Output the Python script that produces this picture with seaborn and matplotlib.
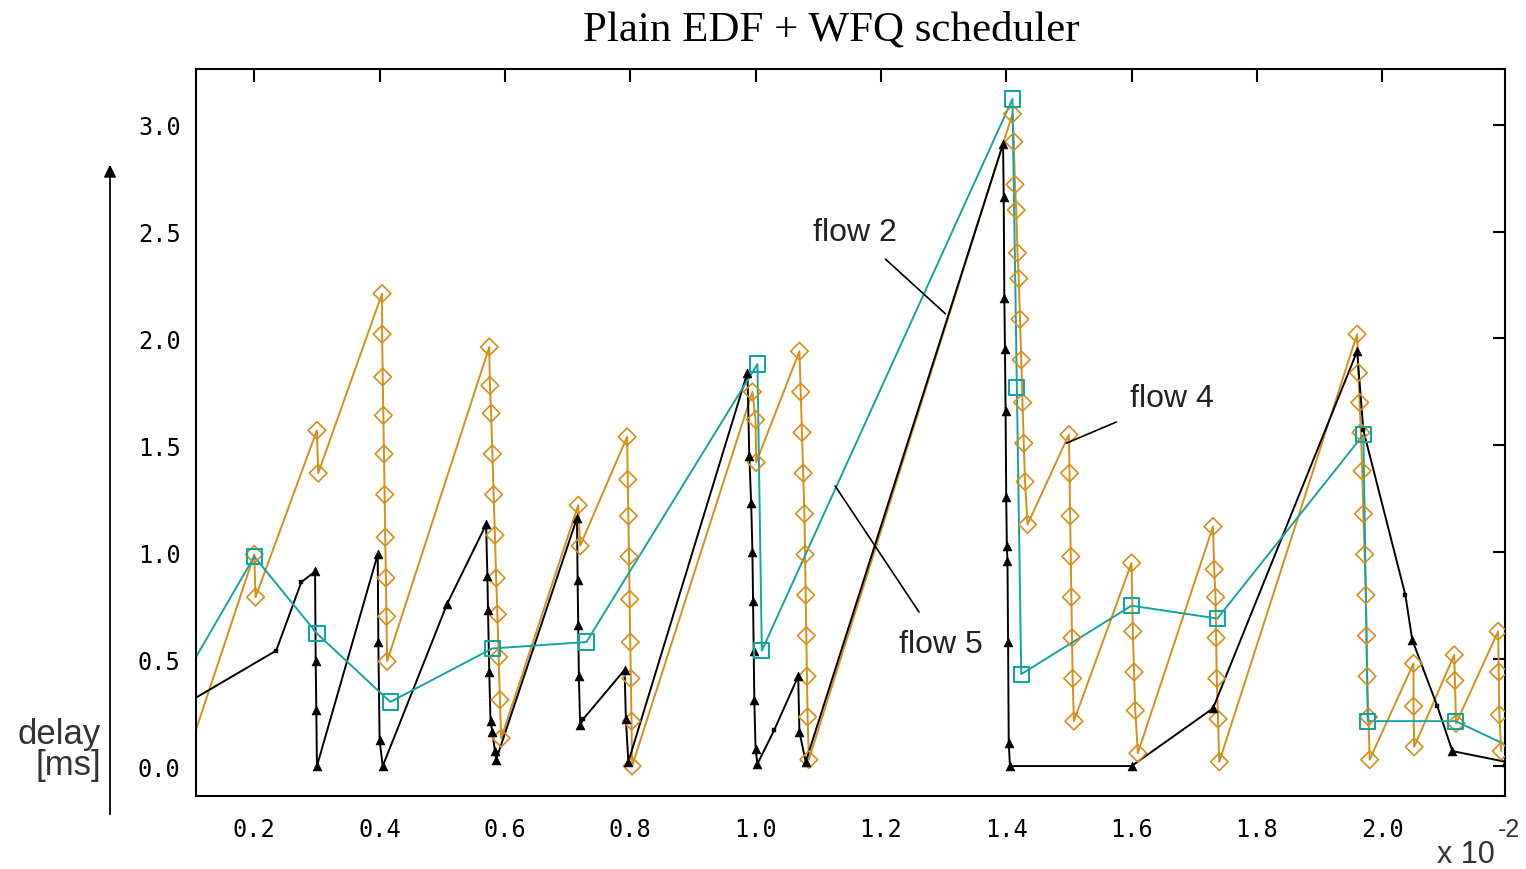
import matplotlib
matplotlib.use("Agg")
import matplotlib.pyplot as plt
import seaborn as sns

# flow 2 (black) : delay in ms vs time (x 10^-2)
flow2_x = [0.107, 0.235, 0.275, 0.297, 0.298, 0.299, 0.300,
           0.397, 0.398, 0.400, 0.405,
           0.508, 0.570, 0.572, 0.573, 0.575, 0.577, 0.580, 0.584, 0.586,
           0.715, 0.716, 0.717, 0.718, 0.720, 0.725, 0.791, 0.793, 0.797,
           0.987, 0.990, 0.993, 0.995, 0.996, 0.997, 0.998, 1.000, 1.003,
           1.030, 1.068, 1.070, 1.080,
           1.395, 1.396, 1.397, 1.398, 1.399, 1.400, 1.401, 1.402, 1.403, 1.404, 1.406,
           1.600, 1.730, 1.960, 1.970, 2.037, 2.048, 2.088, 2.112, 2.197]
flow2_y = [0.32, 0.54, 0.86, 0.91, 0.49, 0.26, 0.00,
           0.99, 0.58, 0.12, 0.00,
           0.76, 1.13, 0.89, 0.73, 0.44, 0.21, 0.16, 0.07, 0.03,
           1.16, 0.87, 0.66, 0.42, 0.19, 0.22, 0.45, 0.22, 0.02,
           1.84, 1.45, 1.23, 1.00, 0.77, 0.54, 0.31, 0.08, 0.01,
           0.17, 0.42, 0.16, 0.02,
           2.91, 2.66, 2.19, 1.95, 1.66, 1.26, 1.03, 0.96, 0.58, 0.11, 0.00,
           0.00, 0.27, 1.94, 1.57, 0.80, 0.59, 0.28, 0.07, 0.02]
# points of flow 2 drawn as small dots instead of triangles
flow2_dot_x = [0.235, 0.275, 0.725, 1.030, 1.970, 2.037, 2.088]

# flow 4 (orange)
flow4_x = [0.107, 0.200, 0.202, 0.300, 0.302, 0.404,
           0.404, 0.405, 0.406, 0.407, 0.408, 0.409, 0.410, 0.411, 0.412,
           0.575, 0.576, 0.578, 0.580, 0.582, 0.584, 0.586, 0.588, 0.590, 0.592, 0.594,
           0.717, 0.720, 0.795,
           0.796, 0.797, 0.798, 0.799, 0.800, 0.801, 0.802, 0.803,
           0.995, 1.000, 1.001, 1.070,
           1.072, 1.074, 1.076, 1.078, 1.079, 1.080, 1.081, 1.082, 1.083, 1.085,
           1.410, 1.412, 1.414, 1.416, 1.418, 1.420, 1.422, 1.424, 1.426, 1.428, 1.430, 1.434,
           1.500, 1.501, 1.502, 1.503, 1.504, 1.505, 1.506, 1.508,
           1.600, 1.602, 1.604, 1.606, 1.610,
           1.730, 1.732, 1.734, 1.735, 1.736, 1.738, 1.740,
           1.960, 1.962, 1.964, 1.966, 1.968, 1.970, 1.972, 1.974, 1.975, 1.976, 1.978, 1.980,
           2.050, 2.050, 2.051,
           2.115, 2.116, 2.118,
           2.185, 2.186, 2.187, 2.190]
flow4_y = [0.17, 0.99, 0.79, 1.57, 1.37, 2.21,
           2.02, 1.82, 1.64, 1.46, 1.27, 1.07, 0.88, 0.70, 0.49,
           1.96, 1.78, 1.65, 1.46, 1.27, 1.08, 0.88, 0.71, 0.51, 0.31, 0.13,
           1.22, 1.03, 1.54,
           1.34, 1.17, 0.98, 0.78, 0.58, 0.41, 0.21, 0.00,
           1.75, 1.62, 1.42, 1.94,
           1.75, 1.56, 1.37, 1.18, 0.99, 0.80, 0.61, 0.42, 0.23, 0.03,
           3.05, 2.92, 2.72, 2.60, 2.40, 2.28, 2.09, 1.90, 1.70, 1.51, 1.33, 1.13,
           1.55, 1.37, 1.17, 0.98, 0.79, 0.60, 0.41, 0.21,
           0.95, 0.63, 0.44, 0.26, 0.06,
           1.12, 0.92, 0.79, 0.60, 0.41, 0.22, 0.02,
           2.02, 1.84, 1.70, 1.56, 1.38, 1.18, 0.99, 0.80, 0.61, 0.42, 0.23, 0.03,
           0.48, 0.28, 0.09,
           0.52, 0.40, 0.20,
           0.63, 0.44, 0.24, 0.07]

# flow 5 (teal)
flow5_x = [0.107, 0.200, 0.300, 0.417, 0.580, 0.730, 1.003, 1.010,
           1.410, 1.417, 1.424, 1.600, 1.737, 1.970, 1.977, 2.117, 2.197]
flow5_y = [0.51, 0.98, 0.62, 0.30, 0.55, 0.58, 1.88, 0.54,
           3.12, 1.77, 0.43, 0.75, 0.69, 1.55, 0.21, 0.21, 0.10]

x_ticks = [0.2, 0.4, 0.6, 0.8, 1.0, 1.2, 1.4, 1.6, 1.8, 2.0]
y_ticks = [0.0, 0.5, 1.0, 1.5, 2.0, 2.5, 3.0]

c_black = "#000000"
c_orange = "#D68F1A"
c_teal = "#16A3A3"

sns.set_style("white")
plt.rcParams['font.family'] = ['Liberation Sans', 'DejaVu Sans']

fig = plt.figure(figsize=(15.26, 8.70), dpi=100)
ax = fig.add_axes([196 / 1526, 1 - 797 / 870, (1505 - 196) / 1526, (797 - 70) / 870])

# orange flow 4
sns.lineplot(x=flow4_x, y=flow4_y, sort=False, estimator=None, color=c_orange, lw=1.4, ax=ax)
sns.scatterplot(x=flow4_x[1:], y=flow4_y[1:], marker="D", s=80, facecolor="none",
                edgecolor=c_orange, linewidth=1.2, ax=ax, zorder=3)

# black flow 2
sns.lineplot(x=flow2_x, y=flow2_y, sort=False, estimator=None, color=c_black, lw=1.4, ax=ax)
tri_x = [x for x in flow2_x[1:] if x not in flow2_dot_x]
tri_y = [y for x, y in zip(flow2_x[1:], flow2_y[1:]) if x not in flow2_dot_x]
dot_y = [y for x, y in zip(flow2_x, flow2_y) if x in flow2_dot_x]
sns.scatterplot(x=tri_x, y=tri_y, marker="^", s=40, color=c_black, edgecolor=c_black,
                ax=ax, zorder=4)
sns.scatterplot(x=flow2_dot_x, y=dot_y, marker="s", s=10, color=c_black, edgecolor=c_black,
                ax=ax, zorder=4)

# teal flow 5
sns.lineplot(x=flow5_x, y=flow5_y, sort=False, estimator=None, color=c_teal, lw=1.4, ax=ax)
sns.scatterplot(x=flow5_x[1:-1], y=flow5_y[1:-1], marker="s", s=120, facecolor="none",
                edgecolor=c_teal, linewidth=1.5, ax=ax, zorder=5)

ax.set_xlim(0.107, 2.196)
ax.set_ylim(-0.14, 3.26)
ax.set_xticks(x_ticks)
ax.set_yticks(y_ticks)
ax.set_xticklabels([f"{v:.1f}" for v in x_ticks], family="DejaVu Sans Mono", fontsize=17)
ax.set_yticklabels([f"{v:.1f}" for v in y_ticks], family="DejaVu Sans Mono", fontsize=17)
ax.tick_params(direction="in", length=9, width=1.5, top=True, right=True, colors="black")
ax.tick_params(axis="x", pad=15)
ax.tick_params(axis="y", pad=11)
for sp in ax.spines.values():
    sp.set_visible(True)
    sp.set_color("black")
    sp.set_linewidth(1.5)
ax.set_xlabel("")
ax.set_ylabel("")

# flow labels with pointer lines
ax.annotate("flow 2", xy=(1.303, 2.115), xytext=(1.159, 2.50), fontsize=23,
            ha="center", va="center", color="#222222",
            arrowprops=dict(arrowstyle="-", color="black", lw=1.2, shrinkA=10, shrinkB=0))
ax.annotate("flow 4", xy=(1.496, 1.51), xytext=(1.665, 1.72), fontsize=23,
            ha="center", va="center", color="#222222",
            arrowprops=dict(arrowstyle="-", color="black", lw=1.2, shrinkA=10, shrinkB=0))
ax.annotate("flow 5", xy=(1.127, 1.31), xytext=(1.295, 0.57), fontsize=23,
            ha="center", va="center", color="#222222",
            arrowprops=dict(arrowstyle="-", color="black", lw=1.2, shrinkA=12, shrinkB=0))

fig.text(831 / 1526, 1 - 30 / 870, "Plain EDF + WFQ scheduler", family="Liberation Serif",
         fontsize=31, ha="center", va="center", color="black")

# y axis arrow and label
ax.annotate("", xy=(110 / 1526, 1 - 163 / 870), xytext=(110 / 1526, 1 - 818 / 870),
            xycoords="figure fraction", textcoords="figure fraction",
            arrowprops=dict(arrowstyle="-|>", color="black", lw=1.3, mutation_scale=18))
fig.text(101 / 1526, 1 - 750 / 870, "delay\n[ms]", fontsize=25, ha="right", va="center",
         color="#333333", linespacing=0.95)

fig.text(1495 / 1526, 1 - 855 / 870, "x 10", fontsize=22, ha="right", va="center", color="#333333")
fig.text(1498 / 1526, 1 - 830 / 870, "-2", fontsize=18, ha="left", va="center", color="#333333")

fig.savefig("out.png", dpi=100)
